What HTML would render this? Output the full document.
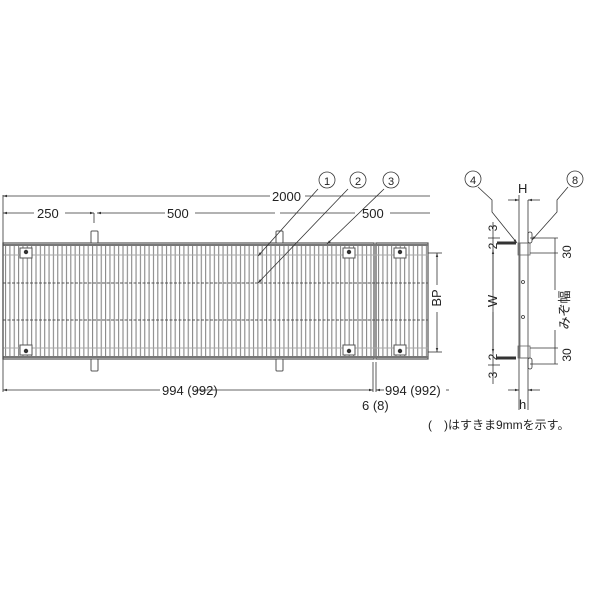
<!DOCTYPE html><html><head><style>body{margin:0;background:#fff}svg{display:block;font-family:"Liberation Sans","Noto Sans CJK JP",sans-serif}</style></head><body>
<svg width="600" height="600" viewBox="0 0 600 600" xmlns="http://www.w3.org/2000/svg">
<defs><marker id="a" viewBox="0 0 10 10" refX="10" refY="5" markerWidth="5" markerHeight="5" orient="auto-start-reverse"><path d="M0,2L10,5L0,8z" fill="#333"/></marker>
<pattern id="p" x="5" y="0" width="4.35" height="10" patternUnits="userSpaceOnUse"><rect x="0" y="0" width="1.1" height="10" fill="#888"/></pattern>
<pattern id="p2" x="378" y="0" width="4.35" height="10" patternUnits="userSpaceOnUse"><rect x="0" y="0" width="1.1" height="10" fill="#888"/></pattern></defs>
<rect x="5" y="245" width="368" height="112" fill="url(#p)"/>
<rect x="378" y="245" width="49" height="112" fill="url(#p2)"/>
<g stroke="#555" fill="none">
<rect x="3" y="243" width="371" height="116" stroke-width="1.2"/>
<rect x="376" y="243" width="52" height="116" stroke-width="1.2"/>
<line x1="3" y1="245" x2="428" y2="245" stroke-width="2" stroke="#777"/>
<line x1="3" y1="357" x2="428" y2="357" stroke-width="2" stroke="#777"/>
<line x1="3" y1="283" x2="428" y2="283" stroke-dasharray="3,1.5"/>
<line x1="3" y1="320" x2="428" y2="320" stroke-dasharray="3,1.5"/>
<line x1="3" y1="255" x2="428" y2="255" stroke="#aaa"/>
<line x1="3" y1="348" x2="428" y2="348" stroke="#aaa"/>
</g>
<g fill="#fff" stroke="#555">
<rect x="20" y="248" width="12" height="10"/><rect x="20" y="345" width="12" height="10"/>
<rect x="343" y="248" width="12" height="10"/><rect x="343" y="345" width="12" height="10"/>
<rect x="394" y="248" width="12" height="10"/><rect x="394" y="345" width="12" height="10"/>
<rect x="91" y="231" width="7" height="12" rx="1"/><rect x="91" y="359" width="7" height="12" rx="1"/>
<rect x="276" y="231" width="7" height="12" rx="1"/><rect x="276" y="359" width="7" height="12" rx="1"/>
</g>
<g fill="#333"><circle cx="26" cy="252" r="2.2"/><circle cx="26" cy="351" r="2.2"/><circle cx="349" cy="252" r="2.2"/><circle cx="349" cy="351" r="2.2"/><circle cx="400" cy="252" r="2.2"/><circle cx="400" cy="351" r="2.2"/></g>
<g stroke="#333" stroke-width="0.8" fill="none">
<line x1="3" y1="195" x2="3" y2="392"/>
<line x1="3" y1="196" x2="270" y2="196" marker-start="url(#a)"/><line x1="305" y1="196" x2="430" y2="196"/>
<line x1="3" y1="213" x2="34" y2="213" marker-start="url(#a)"/><line x1="65" y1="213" x2="94" y2="213" marker-end="url(#a)"/>
<line x1="97" y1="213" x2="165" y2="213" marker-start="url(#a)"/><line x1="195" y1="213" x2="275" y2="213"/>
<line x1="280" y1="213" x2="355" y2="213"/><line x1="390" y1="213" x2="430" y2="213"/>
<line x1="94" y1="213" x2="94" y2="223"/>
<line x1="3" y1="390" x2="160" y2="390" marker-start="url(#a)"/><line x1="195" y1="390" x2="373" y2="390" marker-end="url(#a)"/>
<line x1="373" y1="362" x2="373" y2="392"/><line x1="376" y1="362" x2="376" y2="392"/>
<line x1="376" y1="390" x2="384" y2="390" marker-start="url(#a)"/><line x1="446" y1="390" x2="449" y2="390"/>
<line x1="428" y1="253" x2="442" y2="253"/><line x1="428" y1="352" x2="442" y2="352"/>
<line x1="437" y1="253" x2="437" y2="285" marker-start="url(#a)"/><line x1="437" y1="312" x2="437" y2="352" marker-end="url(#a)"/>
<line x1="318" y1="189" x2="258" y2="256" marker-end="url(#a)"/>
<line x1="348" y1="189" x2="258" y2="283" marker-end="url(#a)"/>
<line x1="384" y1="189" x2="327" y2="244" marker-end="url(#a)"/>
<circle cx="327" cy="180" r="8"/><circle cx="358" cy="180" r="8"/><circle cx="391" cy="180" r="8"/>
<circle cx="473" cy="179" r="8"/><circle cx="575" cy="179" r="8"/>
<polyline points="478,187 492,200 492,212 517,243" marker-end="url(#a)"/>
<polyline points="568,187 557,200 557,212 532,240" marker-end="url(#a)"/>
<line x1="519" y1="195" x2="519" y2="410"/><line x1="528" y1="200" x2="528" y2="410"/>
<line x1="508" y1="200" x2="519" y2="200" marker-end="url(#a)"/><line x1="528" y1="200" x2="540" y2="200" marker-start="url(#a)"/>
<line x1="508" y1="390" x2="519" y2="390" marker-end="url(#a)"/><line x1="528" y1="390" x2="540" y2="390" marker-start="url(#a)"/>
<rect x="520" y="243" width="8" height="115" stroke="#666"/>
<rect x="518" y="243" width="12" height="12" stroke="#666"/><rect x="518" y="346" width="12" height="12" stroke="#666"/>
<rect x="528" y="232" width="4" height="11" rx="2"/><rect x="528" y="358" width="4" height="11" rx="2"/>
<circle cx="523" cy="282" r="1.5"/><circle cx="523" cy="317" r="1.5"/>
<line x1="493" y1="222" x2="493" y2="384"/>
<line x1="488" y1="238" x2="500" y2="238"/><line x1="488" y1="365" x2="500" y2="365"/>
<line x1="530" y1="238" x2="558" y2="238"/><line x1="530" y1="253" x2="558" y2="253"/>
<line x1="530" y1="348" x2="558" y2="348"/><line x1="530" y1="364" x2="558" y2="364"/>
<line x1="555" y1="238" x2="555" y2="290"/><line x1="555" y1="330" x2="555" y2="364"/>
<line x1="493" y1="250" x2="493" y2="290" marker-start="url(#a)"/><line x1="493" y1="312" x2="493" y2="353" marker-end="url(#a)"/>
</g>
<g stroke="#333" stroke-width="3"><line x1="497" y1="243" x2="516" y2="243"/><line x1="497" y1="358" x2="516" y2="358"/></g>
<g fill="#222" font-size="13">
<text x="37" y="218">250</text><text x="167" y="218">500</text><text x="272" y="201">2000</text><text x="362" y="218">500</text>
<text x="162" y="395">994 (992)</text><text x="385" y="395">994 (992)</text><text x="362" y="410">6 (8)</text>
<text x="327" y="185" text-anchor="middle" font-size="11">1</text><text x="358" y="185" text-anchor="middle" font-size="11">2</text><text x="391" y="185" text-anchor="middle" font-size="11">3</text>
<text x="473" y="184" text-anchor="middle" font-size="11">4</text><text x="575" y="184" text-anchor="middle" font-size="11">8</text>
<text x="518" y="193" font-size="13">H</text><text x="519" y="409" font-size="13">h</text>
<text transform="translate(441,298) rotate(-90)" text-anchor="middle">BP</text>
<text transform="translate(497,301) rotate(-90)" text-anchor="middle">W</text>
<text transform="translate(497,228) rotate(-90)" text-anchor="middle" font-size="12">3</text>
<text transform="translate(497,246) rotate(-90)" text-anchor="middle" font-size="12">2</text>
<text transform="translate(497,357) rotate(-90)" text-anchor="middle" font-size="12">2</text>
<text transform="translate(497,375) rotate(-90)" text-anchor="middle" font-size="12">3</text>
<text transform="translate(571,252) rotate(-90)" text-anchor="middle" font-size="12">30</text>
<text transform="translate(571,355) rotate(-90)" text-anchor="middle" font-size="12">30</text>
<text transform="translate(569,310) rotate(-90)" text-anchor="middle" font-size="13">みぞ幅</text>
<text x="428" y="429" font-size="12">(　)はすきま9mmを示す。</text>
</g>
</svg></body></html>
